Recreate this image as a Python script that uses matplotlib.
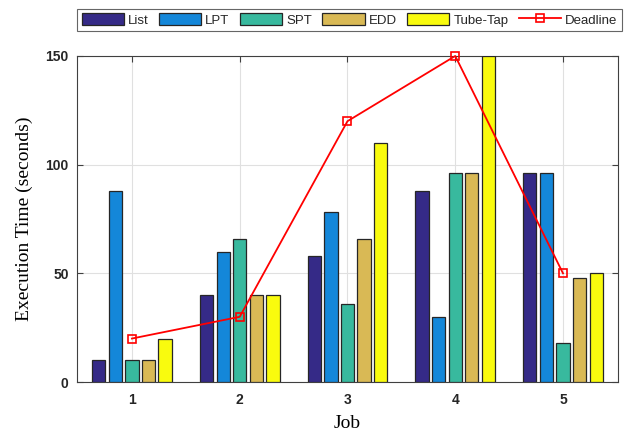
import numpy as np
import matplotlib
matplotlib.use("Agg")
import matplotlib.pyplot as plt

# Execution times per job for each scheduling rule
jobs = [1, 2, 3, 4, 5]
series_names = ["List", "LPT", "SPT", "EDD", "Tube-Tap"]
list_times = [10, 40, 58, 88, 96]
lpt_times = [88, 60, 78, 30, 96]
spt_times = [10, 66, 36, 96, 18]
edd_times = [10, 40, 66, 96, 48]
tubetap_times = [20, 40, 110, 150, 50]
deadline = [20, 30, 120, 150, 50]

colors = ["#352a87", "#1487d9", "#38b99e", "#d9b955", "#f9fb0e"]

fig = plt.figure(figsize=(6.27, 4.34), dpi=100)
ax = fig.add_axes([0.1228, 0.1198, 0.8628, 0.7512])

x = np.array(jobs, dtype=float)
group_w = 5 / 6.5
slot = group_w / 5
bar_w = slot * 0.8

all_series = [list_times, lpt_times, spt_times, edd_times, tubetap_times]
handles = []
for i, (name, vals, c) in enumerate(zip(series_names, all_series, colors)):
    offset = (i - 2) * slot
    b = ax.bar(x + offset, vals, width=bar_w, color=c, edgecolor="#262626",
               linewidth=0.9, label=name, zorder=3)
    handles.append(b)

line, = ax.plot(x, deadline, color="red", linewidth=1.3, marker="s",
                markersize=6, markerfacecolor="none", markeredgecolor="red",
                markeredgewidth=1.2, label="Deadline", zorder=4, clip_on=False)
handles.append(line)

ax.set_xlim(0.49, 5.51)
ax.set_ylim(0, 150)
ax.set_xticks(jobs)
ax.set_yticks([0, 50, 100, 150])
ax.grid(True, color="#e0e0e0", linewidth=0.8, zorder=0)
ax.tick_params(direction="in", length=4, color="#404040", labelsize=10,
               top=True, right=True)
ax.tick_params(axis="x", pad=8)
ax.tick_params(axis="y", pad=6)
for lbl in ax.get_xticklabels() + ax.get_yticklabels():
    lbl.set_fontweight("bold")
    lbl.set_color("#262626")
    lbl.set_family("Liberation Sans")
for s in ax.spines.values():
    s.set_color("#404040")
    s.set_linewidth(0.8)

ax.set_xlabel("Job", family="Liberation Serif", fontsize=14, labelpad=6)
ax.set_ylabel("Execution Time (seconds)", family="Liberation Serif",
              fontsize=14, labelpad=9)

leg = fig.legend(handles=handles, loc="upper left", ncol=6,
                 bbox_to_anchor=(0.123, 0.92, 0.869, 0.06), mode="expand",
                 prop={"family": "Liberation Sans", "size": 9.5},
                 labelcolor="#262626",
                 frameon=True, fancybox=False, edgecolor="#404040",
                 handlelength=3.2, handleheight=0.95, handletextpad=0.3,
                 columnspacing=0.6, borderpad=0.35, borderaxespad=0)
leg.get_frame().set_linewidth(0.8)

fig.savefig("out.png", dpi=100)
